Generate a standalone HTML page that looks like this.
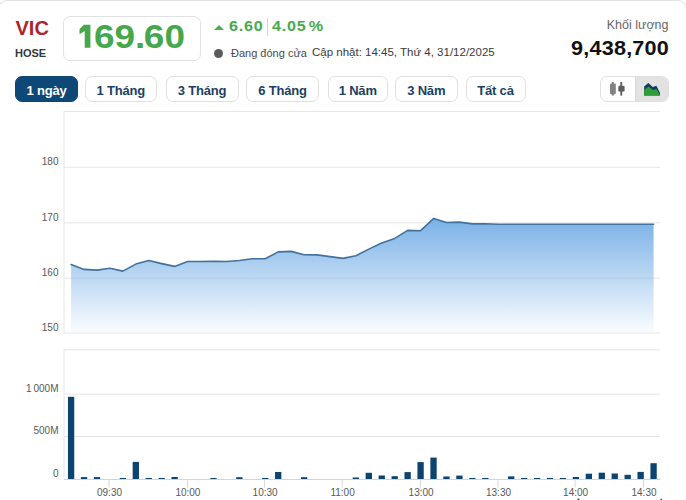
<!DOCTYPE html>
<html><head><meta charset="utf-8">
<style>
*{margin:0;padding:0;box-sizing:border-box}
html,body{width:686px;height:500px;overflow:hidden;background:#fff;font-family:"Liberation Sans",sans-serif}
.card{position:absolute;left:-2.5px;top:0;width:689.5px;height:520px;border:1px solid #e2e2e2;border-radius:9px}
.abs{position:absolute;white-space:nowrap}
.sym{left:15.5px;top:16px;font-size:20px;font-weight:bold;color:#ab252d;line-height:24px}
.exch{left:15px;top:46px;font-size:11px;font-weight:bold;color:#34383d;line-height:14px}
.pbox{position:absolute;left:63px;top:16px;width:138px;height:45px;border:1px solid #e2e2e2;border-radius:7px}
.price{left:93.5px;top:17px;font-size:32.5px;font-weight:bold;color:#46a84b;line-height:40px;letter-spacing:0px;transform:scaleX(1.136);transform-origin:0 0}
.tri{position:absolute;left:214px;top:25px;width:0;height:0;border-left:5.2px solid transparent;border-right:5.2px solid transparent;border-bottom:5.4px solid #4caf50}
.chg{top:15px;font-size:14px;font-weight:bold;color:#4aa84e;line-height:22px;letter-spacing:0.7px;transform:scaleX(1.15);transform-origin:0 0}
.sep{position:absolute;left:267px;top:18px;width:1px;height:18px;background:#d4d4d4}
.dot{position:absolute;left:214px;top:48.5px;width:9px;height:9px;border-radius:50%;background:#5a5a5a}
.st{top:45px;font-size:11px;color:#4a4a4a;line-height:16px}
.upd{top:44px;font-size:11.5px;color:#3a3a3a;line-height:16px;letter-spacing:0px}
.kl{top:16.5px;font-size:12.5px;color:#666;line-height:16px;right:17.5px}
.vol{top:35.5px;font-size:20px;font-weight:bold;color:#111;line-height:24px;left:571px;letter-spacing:0.2px;transform:scaleX(1.08);transform-origin:0 0}
.btn{position:absolute;top:76px;height:26px;border:1px solid #e0e0e0;border-radius:7px;font-size:13px;font-weight:bold;color:#1b3f64;line-height:27.5px;text-align:center;white-space:nowrap;letter-spacing:-0.2px}
.btn.on{background:#0e4876;border-color:#0e4876;color:#fff}
.tg{position:absolute;left:600px;top:76px;width:69px;height:26px;border:1px solid #e0e0e0;border-radius:7px;overflow:hidden}
.tg .r{position:absolute;left:34px;top:0;width:35px;height:26px;background:#e2e2e2;border-left:1px solid #d6d6d6}
svg{position:absolute;left:0;top:0}
.yl{position:absolute;font-size:10px;color:#666;text-align:right;width:40px;line-height:12px}
.xl{position:absolute;font-size:10px;color:#666;line-height:12px;text-align:center;width:40px}
</style></head><body>
<div class="card"></div>
<div class="abs sym">VIC</div>
<div class="abs exch">HOSE</div>
<div class="pbox"></div>
<svg style="position:absolute;left:0;top:0" width="100" height="60"><path d="M83.9,24.8 L90.4,24.8 L90.4,47.8 L84.7,47.8 L84.7,31 L79.5,34.2 L79.5,29.2 Z" fill="#46a84b"/></svg><div class="abs price">69<span style="margin-right:-1.3px">.</span>60</div>
<div class="tri"></div>
<div class="abs chg" style="left:229px">6.60</div>
<div class="sep"></div>
<div class="abs chg" style="left:272px">4.05<span style="letter-spacing:0;margin-left:2px">%</span></div>
<div class="dot"></div>
<div class="abs st" style="left:231px">Đang đóng cửa</div>
<div class="abs upd" style="left:312px">Cập nhật: 14:45, Thứ 4, 31/12/2025</div>
<div class="abs kl">Khối lượng</div>
<div class="abs vol">9,438,700</div>

<div class="btn on" style="left:15px;width:63px">1 ngày</div>
<div class="btn" style="left:85px;width:71.5px">1 Tháng</div>
<div class="btn" style="left:165.5px;width:73px">3 Tháng</div>
<div class="btn" style="left:246px;width:73px">6 Tháng</div>
<div class="btn" style="left:327.5px;width:60.5px">1 Năm</div>
<div class="btn" style="left:395px;width:62.5px">3 Năm</div>
<div class="btn" style="left:465.5px;width:60px">Tất cả</div>
<div class="tg"><div class="r"></div></div>

<svg id="chart" width="686" height="500" viewBox="0 0 686 500">
<defs><linearGradient id="ag" x1="0" y1="0" x2="0" y2="1"><stop offset="0" stop-color="#7ab1e7"/><stop offset="1" stop-color="#7ab1e7" stop-opacity="0.03"/></linearGradient></defs>
<line x1="64" y1="111.5" x2="660" y2="111.5" stroke="#e6e6e6" stroke-width="1"/>
<line x1="64" y1="167.3" x2="660" y2="167.3" stroke="#e6e6e6" stroke-width="1"/>
<line x1="64" y1="222.8" x2="660" y2="222.8" stroke="#e6e6e6" stroke-width="1"/>
<line x1="64" y1="278.2" x2="660" y2="278.2" stroke="#e6e6e6" stroke-width="1"/>
<line x1="64" y1="333.0" x2="660" y2="333.0" stroke="#e6e6e6" stroke-width="1"/>
<line x1="64" y1="111" x2="64" y2="333.5" stroke="#e6e6e6" stroke-width="1"/>
<line x1="64" y1="349.8" x2="660" y2="349.8" stroke="#e6e6e6" stroke-width="1"/>
<line x1="64" y1="394.2" x2="660" y2="394.2" stroke="#e6e6e6" stroke-width="1"/>
<line x1="64" y1="436.5" x2="660" y2="436.5" stroke="#e6e6e6" stroke-width="1"/>
<line x1="64" y1="479.5" x2="660" y2="479.5" stroke="#d4d4d4" stroke-width="1"/>
<line x1="64" y1="349.5" x2="64" y2="479.5" stroke="#e6e6e6" stroke-width="1"/>
<path d="M71.10,333 L71.10,264.50 84.04,269.40 96.99,270.10 109.93,268.30 122.88,271.10 135.82,264.10 148.76,260.50 161.71,263.60 174.65,266.40 187.60,261.50 200.54,261.50 213.48,261.30 226.43,261.50 239.37,260.50 252.32,258.70 265.26,258.70 278.20,251.90 291.15,251.40 304.09,254.70 317.04,254.90 329.98,256.60 342.92,258.40 355.87,255.80 368.81,249.10 381.76,243.00 394.70,238.40 407.64,230.40 420.59,230.70 433.53,218.60 446.48,222.50 459.42,222.10 472.36,223.90 485.31,223.70 498.25,224.20 511.20,224.20 524.14,224.20 537.08,224.20 550.03,224.20 562.97,224.20 575.92,224.20 588.86,224.20 601.80,224.20 614.75,224.20 627.69,224.20 640.64,224.20 653.58,224.20 L653.58,333 Z" fill="url(#ag)"/>
<polyline points="71.10,264.50 84.04,269.40 96.99,270.10 109.93,268.30 122.88,271.10 135.82,264.10 148.76,260.50 161.71,263.60 174.65,266.40 187.60,261.50 200.54,261.50 213.48,261.30 226.43,261.50 239.37,260.50 252.32,258.70 265.26,258.70 278.20,251.90 291.15,251.40 304.09,254.70 317.04,254.90 329.98,256.60 342.92,258.40 355.87,255.80 368.81,249.10 381.76,243.00 394.70,238.40 407.64,230.40 420.59,230.70 433.53,218.60 446.48,222.50 459.42,222.10 472.36,223.90 485.31,223.70 498.25,224.20 511.20,224.20 524.14,224.20 537.08,224.20 550.03,224.20 562.97,224.20 575.92,224.20 588.86,224.20 601.80,224.20 614.75,224.20 627.69,224.20 640.64,224.20 653.58,224.20" fill="none" stroke="#41729d" stroke-width="1.6" stroke-linejoin="round" stroke-linecap="round"/>
<rect x="67.95" y="396.8" width="6.3" height="82.20" fill="#0d436f"/>
<rect x="80.89" y="477.1" width="6.3" height="1.90" fill="#0d436f"/>
<rect x="93.84" y="477.1" width="6.3" height="1.90" fill="#0d436f"/>
<rect x="119.73" y="478" width="6.3" height="1.00" fill="#0d436f"/>
<rect x="132.67" y="461.9" width="6.3" height="17.10" fill="#0d436f"/>
<rect x="145.61" y="478" width="6.3" height="1.00" fill="#0d436f"/>
<rect x="158.56" y="478" width="6.3" height="1.00" fill="#0d436f"/>
<rect x="171.50" y="477" width="6.3" height="2.00" fill="#0d436f"/>
<rect x="210.33" y="478" width="6.3" height="1.00" fill="#0d436f"/>
<rect x="236.22" y="477.2" width="6.3" height="1.80" fill="#0d436f"/>
<rect x="262.11" y="478" width="6.3" height="1.00" fill="#0d436f"/>
<rect x="275.05" y="472" width="6.3" height="7.00" fill="#0d436f"/>
<rect x="300.94" y="477.2" width="6.3" height="1.80" fill="#0d436f"/>
<rect x="352.72" y="477.5" width="6.3" height="1.50" fill="#0d436f"/>
<rect x="365.66" y="472.8" width="6.3" height="6.20" fill="#0d436f"/>
<rect x="378.61" y="475.5" width="6.3" height="3.50" fill="#0d436f"/>
<rect x="391.55" y="476.2" width="6.3" height="2.80" fill="#0d436f"/>
<rect x="404.49" y="472.1" width="6.3" height="6.90" fill="#0d436f"/>
<rect x="417.44" y="462.1" width="6.3" height="16.90" fill="#0d436f"/>
<rect x="430.38" y="457.6" width="6.3" height="21.40" fill="#0d436f"/>
<rect x="443.33" y="476.5" width="6.3" height="2.50" fill="#0d436f"/>
<rect x="456.27" y="475.6" width="6.3" height="3.40" fill="#0d436f"/>
<rect x="469.21" y="478" width="6.3" height="1.00" fill="#0d436f"/>
<rect x="482.16" y="478" width="6.3" height="1.00" fill="#0d436f"/>
<rect x="508.05" y="476.4" width="6.3" height="2.60" fill="#0d436f"/>
<rect x="520.99" y="478" width="6.3" height="1.00" fill="#0d436f"/>
<rect x="533.93" y="478" width="6.3" height="1.00" fill="#0d436f"/>
<rect x="546.88" y="478" width="6.3" height="1.00" fill="#0d436f"/>
<rect x="559.82" y="478" width="6.3" height="1.00" fill="#0d436f"/>
<rect x="572.77" y="477" width="6.3" height="2.00" fill="#0d436f"/>
<rect x="585.71" y="473.7" width="6.3" height="5.30" fill="#0d436f"/>
<rect x="598.65" y="472.7" width="6.3" height="6.30" fill="#0d436f"/>
<rect x="611.60" y="473.5" width="6.3" height="5.50" fill="#0d436f"/>
<rect x="624.54" y="474.8" width="6.3" height="4.20" fill="#0d436f"/>
<rect x="637.49" y="471.9" width="6.3" height="7.10" fill="#0d436f"/>
<rect x="650.43" y="463.2" width="6.3" height="15.80" fill="#0d436f"/>
<line x1="109" y1="479.0" x2="109" y2="487.5" stroke="#d8d8d8" stroke-width="1"/>
<text x="109.5" y="496" font-size="10" fill="#585858" text-anchor="middle">09:30</text>
<line x1="187.4" y1="479.0" x2="187.4" y2="487.5" stroke="#d8d8d8" stroke-width="1"/>
<text x="187.9" y="496" font-size="10" fill="#585858" text-anchor="middle">10:00</text>
<line x1="264.6" y1="479.0" x2="264.6" y2="487.5" stroke="#d8d8d8" stroke-width="1"/>
<text x="265.1" y="496" font-size="10" fill="#585858" text-anchor="middle">10:30</text>
<line x1="342.1" y1="479.0" x2="342.1" y2="487.5" stroke="#d8d8d8" stroke-width="1"/>
<text x="342.6" y="496" font-size="10" fill="#585858" text-anchor="middle">11:00</text>
<line x1="420.6" y1="479.0" x2="420.6" y2="487.5" stroke="#d8d8d8" stroke-width="1"/>
<text x="421.1" y="496" font-size="10" fill="#585858" text-anchor="middle">13:00</text>
<line x1="498" y1="479.0" x2="498" y2="487.5" stroke="#d8d8d8" stroke-width="1"/>
<text x="498.5" y="496" font-size="10" fill="#585858" text-anchor="middle">13:30</text>
<line x1="575.1" y1="479.0" x2="575.1" y2="487.5" stroke="#d8d8d8" stroke-width="1"/>
<text x="575.6" y="496" font-size="10" fill="#585858" text-anchor="middle">14:00</text>
<line x1="643.5" y1="479.0" x2="643.5" y2="487.5" stroke="#d8d8d8" stroke-width="1"/>
<text x="644.0" y="496" font-size="10" fill="#585858" text-anchor="middle">14:30</text>
<text x="58.5" y="165" font-size="10" fill="#585858" text-anchor="end">180</text>
<text x="58.5" y="220.5" font-size="10" fill="#585858" text-anchor="end">170</text>
<text x="58.5" y="275.8" font-size="10" fill="#585858" text-anchor="end">160</text>
<text x="58.5" y="331" font-size="10" fill="#585858" text-anchor="end">150</text>
<text x="58.5" y="392" font-size="10" fill="#585858" text-anchor="end">1 000M</text>
<text x="58.5" y="434" font-size="10" fill="#585858" text-anchor="end">500M</text>
<text x="58.5" y="476.7" font-size="10" fill="#585858" text-anchor="end">0</text>
<g fill="#828282"><rect x="611.8" y="82" width="2" height="13.6"/><rect x="610" y="83.6" width="5.8" height="10.7" rx="1.2"/></g>
<g fill="#5e5e5e"><rect x="620.3" y="82" width="1.9" height="13.6"/><rect x="618.3" y="85.8" width="6.3" height="5.8" rx="1.2"/></g>
<path d="M644.2,86.6 L648.3,83 L652.8,87 L656.4,85.7 L660,92.9 L660,95.6 L644.2,95.6 Z" fill="#133b60"/>
<path d="M644.2,90 L648.4,86.6 L653,90 L656.5,89 L660,95 L660,95.6 L644.2,95.6 Z" fill="#2f9e3a"/>
<rect x="577.5" y="498.6" width="1.8" height="1.4" fill="#333"/><rect x="660.5" y="498.8" width="1.5" height="1.2" fill="#444"/>
</svg>
</body></html>
